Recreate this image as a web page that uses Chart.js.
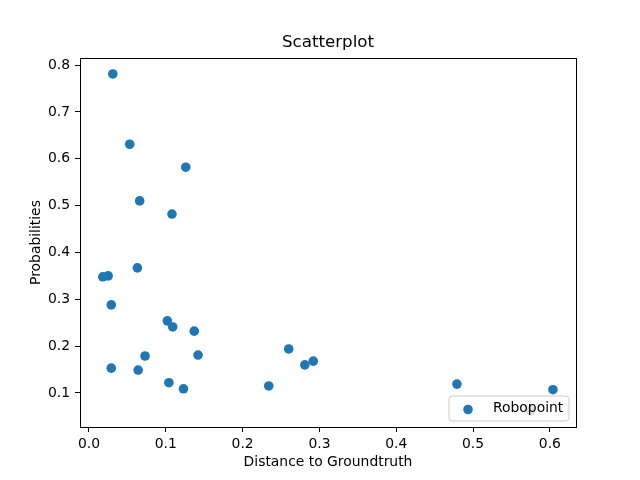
<!DOCTYPE html>
<html>
<head>
<meta charset="utf-8">
<script src="https://cdn.jsdelivr.net/npm/chart.js@4"></script>
<style>
html,body{margin:0;padding:0;background:#fff;}
canvas{display:block;}
</style>
</head>
<body>
<canvas id="c" width="640" height="480"></canvas>
<script>
const seriesLabel = "Robopoint";
const distances = [0.031, 0.053, 0.126, 0.066, 0.108, 0.063, 0.018, 0.025, 0.029, 0.102, 0.109, 0.137, 0.142, 0.073, 0.260, 0.292, 0.281, 0.029, 0.064, 0.104, 0.123, 0.234, 0.479, 0.604, 0.575];
const probabilities = [0.781, 0.631, 0.582, 0.510, 0.482, 0.367, 0.348, 0.350, 0.288, 0.254, 0.241, 0.232, 0.181, 0.179, 0.194, 0.168, 0.160, 0.153, 0.149, 0.122, 0.109, 0.115, 0.119, 0.107, 0.062];
const xTicks = [0.0, 0.1, 0.2, 0.3, 0.4, 0.5, 0.6];
const yTicks = [0.1, 0.2, 0.3, 0.4, 0.5, 0.6, 0.7, 0.8];

const FONT = "'DejaVu Sans', sans-serif";
const blue = '#1f77b4';

const points = distances.map((d, i) => ({x: d, y: probabilities[i]}));

const framePlugin = {
  id: 'frame',
  beforeDraw(chart) {
    const tb = chart.titleBlock;
    if (tb) { tb.left = chart.chartArea.left; tb.right = chart.chartArea.right; }
  },
  afterDatasetsDraw(chart) {
    const {ctx, chartArea: a} = chart;
    ctx.save();
    ctx.strokeStyle = '#000';
    ctx.lineWidth = 1;
    ctx.strokeRect(Math.round(a.left) + 0.5, Math.round(a.top) + 0.5, Math.round(a.right - a.left), Math.round(a.bottom - a.top));
    // legend lower right
    const w = 120, h = 25;
    const x0 = a.right - 7 - w, y0 = a.bottom - 6 - h;
    ctx.beginPath();
    const r = 3;
    ctx.moveTo(x0 + r, y0);
    ctx.arcTo(x0 + w, y0, x0 + w, y0 + h, r);
    ctx.arcTo(x0 + w, y0 + h, x0, y0 + h, r);
    ctx.arcTo(x0, y0 + h, x0, y0, r);
    ctx.arcTo(x0, y0, x0 + w, y0, r);
    ctx.closePath();
    ctx.fillStyle = 'rgba(255,255,255,0.8)';
    ctx.fill();
    ctx.strokeStyle = '#cccccc';
    ctx.stroke();
    ctx.beginPath();
    ctx.arc(x0 + 19, y0 + h / 2 + 1, 4.8, 0, Math.PI * 2);
    ctx.fillStyle = blue;
    ctx.fill();
    ctx.fillStyle = '#000';
    ctx.font = '13.9px ' + FONT;
    ctx.textBaseline = 'middle';
    ctx.textAlign = 'left';
    ctx.fillText(chart.data.datasets[0].label, x0 + 44, y0 + h / 2);
    ctx.restore();
  }
};

new Chart(document.getElementById('c'), {
  type: 'scatter',
  data: {
    datasets: [{
      label: seriesLabel,
      data: points,
      backgroundColor: blue,
      borderColor: blue,
      borderWidth: 0,
      pointRadius: 4.8,
      pointHoverRadius: 4.8
    }]
  },
  options: {
    responsive: false,
    animation: false,
    devicePixelRatio: 1,
    layout: {padding: {left: 0, right: 64, top: 0, bottom: 0}},
    plugins: {
      legend: {display: false},
      tooltip: {enabled: false},
      title: {
        display: true,
        text: 'Scatterplot',
        color: '#000',
        font: {family: FONT, size: 16.7, weight: 'normal', lineHeight: 1.2},
        padding: {top: 33, bottom: 5}
      }
    },
    scales: {
      x: {
        type: 'linear',
        min: -0.0117,
        max: 0.634,
        afterFit(s) { s.height = 53; },
        afterBuildTicks(s) { s.ticks = xTicks.map(v => ({value: v})); },
        border: {display: false},
        grid: {drawOnChartArea: false, drawTicks: true, tickLength: 5, color: '#000'},
        ticks: {
          color: '#000', padding: 4, maxRotation: 0, autoSkip: false,
          font: {family: FONT, size: 13.9},
          callback: v => Number(v).toFixed(1)
        },
        title: {
          display: true, text: 'Distance to Groundtruth', color: '#000',
          font: {family: FONT, size: 13.9, lineHeight: 1.2},
          padding: {top: 0, bottom: 9}
        }
      },
      y: {
        type: 'linear',
        min: 0.0274,
        max: 0.815,
        afterFit(s) { s.width = 80; },
        afterBuildTicks(s) { s.ticks = yTicks.map(v => ({value: v})); },
        border: {display: false},
        grid: {drawOnChartArea: false, drawTicks: true, tickLength: 5, color: '#000'},
        ticks: {
          color: '#000', padding: 5, autoSkip: false,
          font: {family: FONT, size: 13.9},
          callback: v => Number(v).toFixed(1)
        },
        title: {
          display: true, text: 'Probabilities', color: '#000',
          font: {family: FONT, size: 13.9, lineHeight: 1.2},
          padding: {top: 28, bottom: 0}
        }
      }
    }
  },
  plugins: [framePlugin]
});
</script>
</body>
</html>
